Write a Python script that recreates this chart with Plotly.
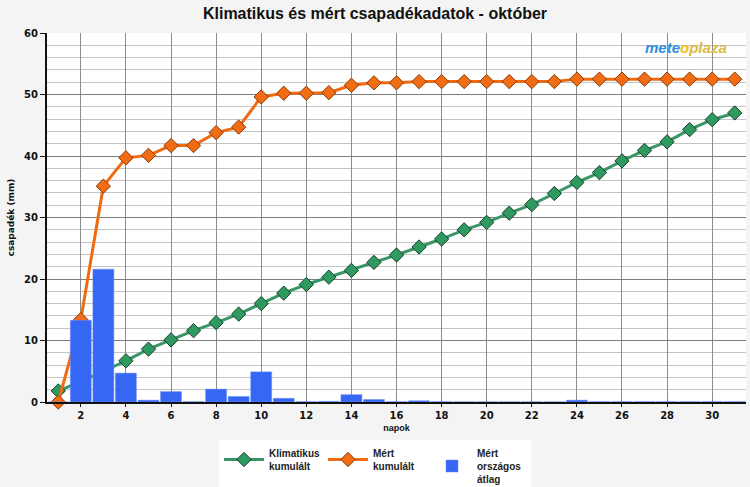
import plotly.graph_objects as go

days = list(range(1, 32))
klimatikus = [1.8, 3.3, 5.0, 6.7, 8.6, 10.1, 11.6, 12.9, 14.3, 16.0, 17.7, 19.1, 20.3, 21.4, 22.7,
              23.9, 25.2, 26.5, 28.0, 29.2, 30.7, 32.1, 33.9, 35.7, 37.3, 39.2, 40.9, 42.3, 44.3, 45.9, 47.0]
mert_kum = [0.0, 13.4, 35.1, 39.7, 40.1, 41.7, 41.7, 43.8, 44.7, 49.6, 50.2, 50.2, 50.3, 51.5, 51.9,
            51.9, 52.1, 52.1, 52.1, 52.1, 52.1, 52.1, 52.1, 52.5, 52.5, 52.5, 52.5, 52.5, 52.5, 52.5, 52.5]
orszagos = [0.0, 13.3, 21.6, 4.7, 0.3, 1.7, 0.05, 2.1, 0.9, 4.9, 0.6, 0.05, 0.1, 1.2, 0.4,
            0.05, 0.2, 0.05, 0.03, 0.03, 0.03, 0.03, 0.03, 0.3, 0.05, 0.05, 0.05, 0.05, 0.05, 0.05, 0.05]
x_ticks = list(range(2, 31, 2))
y_ticks = list(range(0, 61, 10))
x_range = [0.5, 31.5]
y_range = [0, 60]

fig = go.Figure()
fig.add_trace(go.Scatter(
    x=days, y=klimatikus, name="Klimatikus<br>kumulált", mode="lines+markers",
    line=dict(color="#3a9667", width=3),
    marker=dict(symbol="diamond", size=11, color="#2f9a5f", line=dict(color="#1b3f2a", width=1)),
    cliponaxis=False))
fig.add_trace(go.Scatter(
    x=days, y=mert_kum, name="Mért<br>kumulált", mode="lines+markers",
    line=dict(color="#f06a12", width=3),
    marker=dict(symbol="diamond", size=11, color="#f26c14", line=dict(color="#8a3a05", width=1)),
    cliponaxis=False))
fig.add_trace(go.Bar(
    x=days, y=orszagos, name="Mért<br>országos<br>átlag", width=0.93,
    xaxis="x2", yaxis="y2",
    marker=dict(color="#3567f4", line=dict(color="#6b8ff7", width=0.5))))

fig.update_layout(
    width=750, height=487,
    margin=dict(l=47, r=4, t=33, b=85, autoexpand=False),
    paper_bgcolor="#f4f4f4", plot_bgcolor="white",
    title=dict(text="<b>Klimatikus és mért csapadékadatok - október</b>",
               x=0.5, xanchor="center", y=0.972, yanchor="middle",
               font=dict(family="Liberation Sans", size=16, color="#111")),
    showlegend=True,
    legend=dict(orientation="h", xref="container", yref="container",
                x=0.5, xanchor="center", y=1 - 440 / 487, yanchor="top",
                bgcolor="white", font=dict(family="Liberation Sans", size=10, color="#222", weight="bold"),
                entrywidth=49, entrywidthmode="pixels", itemwidth=40, traceorder="normal",
                valign="middle"),
    font=dict(family="DejaVu Sans"),
    xaxis=dict(
        range=x_range, tickmode="array", tickvals=x_ticks,
        tickfont=dict(family="DejaVu Sans", size=10, color="#111", weight="bold"),
        showgrid=True, gridcolor="#8c8c8c", gridwidth=1,
        showline=True, linecolor="#111", linewidth=2,
        ticks="outside", ticklen=3, tickcolor="#111",
        title=dict(text="<b>napok</b>", font=dict(family="Liberation Sans", size=9, color="#111"), standoff=5),
        zeroline=False),
    yaxis=dict(
        range=y_range, tickmode="array", tickvals=y_ticks,
        tickfont=dict(family="DejaVu Sans", size=10, color="#111", weight="bold"),
        showgrid=True, gridcolor="#7d7d7d", gridwidth=1,
        minor=dict(dtick=2, showgrid=True, gridcolor="#c4c4c4", gridwidth=1),
        showline=True, linecolor="#111", linewidth=2,
        ticks="outside", ticklen=5, tickcolor="#111",
        title=dict(text="<b>csapadék (mm)</b>", font=dict(family="DejaVu Sans", size=9, color="#111"), standoff=8),
        zeroline=False),
    xaxis2=dict(overlaying="x", range=x_range, visible=False, showgrid=False, zeroline=False),
    yaxis2=dict(overlaying="y", range=y_range, visible=False, showgrid=False, zeroline=False),
)

fig.add_annotation(
    xref="paper", yref="paper", x=0.975, y=0.99, xanchor="right", yanchor="top",
    text="<b><i><span style='color:#2d8fdc'>mete</span><span style='color:#f0c020'>o</span>"
         "<span style='color:#d9bb45'>plaza</span></i></b>",
    showarrow=False, font=dict(family="Liberation Sans", size=15))

fig.write_html("out.html")
